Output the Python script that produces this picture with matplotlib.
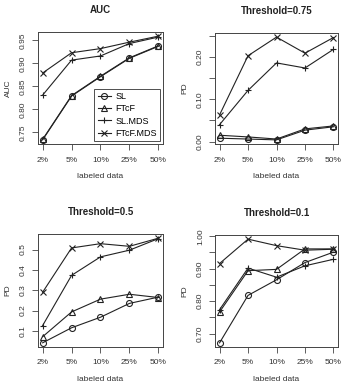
import matplotlib
matplotlib.use("Agg")
import matplotlib.pyplot as plt
import numpy as np

plt.rcParams['font.family'] = ['Liberation Sans', 'DejaVu Sans']

labels = ["2%", "5%", "10%", "25%", "50%"]
series = ["SL", "FTcF", "SL.MDS", "FTcF.MDS"]

auc_SL = [0.734, 0.829, 0.871, 0.911, 0.937]
auc_FTcF = [0.735, 0.830, 0.872, 0.912, 0.938]
auc_SLMDS = [0.831, 0.907, 0.916, 0.943, 0.957]
auc_FTcFMDS = [0.879, 0.923, 0.932, 0.946, 0.959]

t75_SL = [0.008, 0.006, 0.004, 0.027, 0.035]
t75_FTcF = [0.015, 0.011, 0.006, 0.030, 0.037]
t75_SLMDS = [0.040, 0.121, 0.186, 0.174, 0.218]
t75_FTcFMDS = [0.063, 0.203, 0.247, 0.209, 0.246]

t50_SL = [0.041, 0.115, 0.167, 0.235, 0.266]
t50_FTcF = [0.071, 0.193, 0.256, 0.280, 0.264]
t50_SLMDS = [0.126, 0.373, 0.464, 0.497, 0.554]
t50_FTcFMDS = [0.290, 0.508, 0.529, 0.516, 0.556]

t10_SL = [0.672, 0.818, 0.866, 0.919, 0.951]
t10_FTcF = [0.767, 0.894, 0.898, 0.961, 0.961]
t10_SLMDS = [0.774, 0.902, 0.874, 0.909, 0.929]
t10_FTcFMDS = [0.916, 0.991, 0.971, 0.957, 0.960]

panels = [
    ("AUC", "AUC", [auc_SL, auc_FTcF, auc_SLMDS, auc_FTcFMDS],
     [0.75, 0.80, 0.85, 0.90, 0.95], ["0.75", "0.80", "0.85", "0.90", "0.95"]),
    ("Threshold=0.75", "PD", [t75_SL, t75_FTcF, t75_SLMDS, t75_FTcFMDS],
     [0.0, 0.05, 0.10, 0.15, 0.20, 0.25], ["0.00", "", "0.10", "", "0.20", ""]),
    ("Threshold=0.5", "PD", [t50_SL, t50_FTcF, t50_SLMDS, t50_FTcFMDS],
     [0.1, 0.2, 0.3, 0.4, 0.5], ["0.1", "0.2", "0.3", "0.4", "0.5"]),
    ("Threshold=0.1", "PD", [t10_SL, t10_FTcF, t10_SLMDS, t10_FTcFMDS],
     [0.70, 0.75, 0.80, 0.85, 0.90, 0.95, 1.00], ["0.70", "", "0.80", "", "0.90", "", "1.00"]),
]

markers = ["o", "^", "+", "x"]
W, H = 345, 388
fig = plt.figure(figsize=(W / 100, H / 100), dpi=100)
boxes = [(38, 32, 163, 144), (215, 33, 338, 144), (38, 234, 163, 347), (215, 235, 338, 347)]

tc = "#333333"
for (title, ylab, data, yt, ytl), (x0, y0, x1, y1) in zip(panels, boxes):
    ax = fig.add_axes([x0 / W, 1 - y1 / H, (x1 - x0) / W, (y1 - y0) / H])
    x = np.arange(1, len(labels) + 1)
    for vals, m, name in zip(data, markers, series):
        ax.plot(x, vals, color="#222222", lw=0.8, marker=m, ms=4.3,
                mfc="none", mec="#222222", mew=0.8, label=name)
    ax.margins(x=0.04, y=0.04)
    ax.set_xticks(x)
    ax.set_xticklabels(labels, fontsize=6, color=tc)
    ax.set_yticks(yt)
    ax.set_yticklabels(ytl, fontsize=6, color=tc, rotation=90, va="center")
    ax.tick_params(direction="out", length=4, width=0.6, colors="#444444", labelcolor=tc)
    ax.tick_params(axis="x", pad=5)
    ax.tick_params(axis="y", pad=4)
    for s in ax.spines.values():
        s.set_linewidth(0.7)
        s.set_color("#444444")
    ax.set_title(title, fontsize=7, fontweight="bold", color="#222222", pad=14)
    ax.set_xlabel("labeled data", fontsize=6, color=tc, labelpad=7)
    ax.set_ylabel(ylab, fontsize=6, color=tc, labelpad=6)
    if title == "AUC":
        leg = ax.legend(loc="lower right", fontsize=6.5, frameon=True, fancybox=False,
                        edgecolor="#222222", borderpad=0.4, handlelength=1.4,
                        labelspacing=0.35, borderaxespad=0.3, handletextpad=0.5)
        leg.get_frame().set_linewidth(0.7)

fig.savefig("out.png", dpi=100)
